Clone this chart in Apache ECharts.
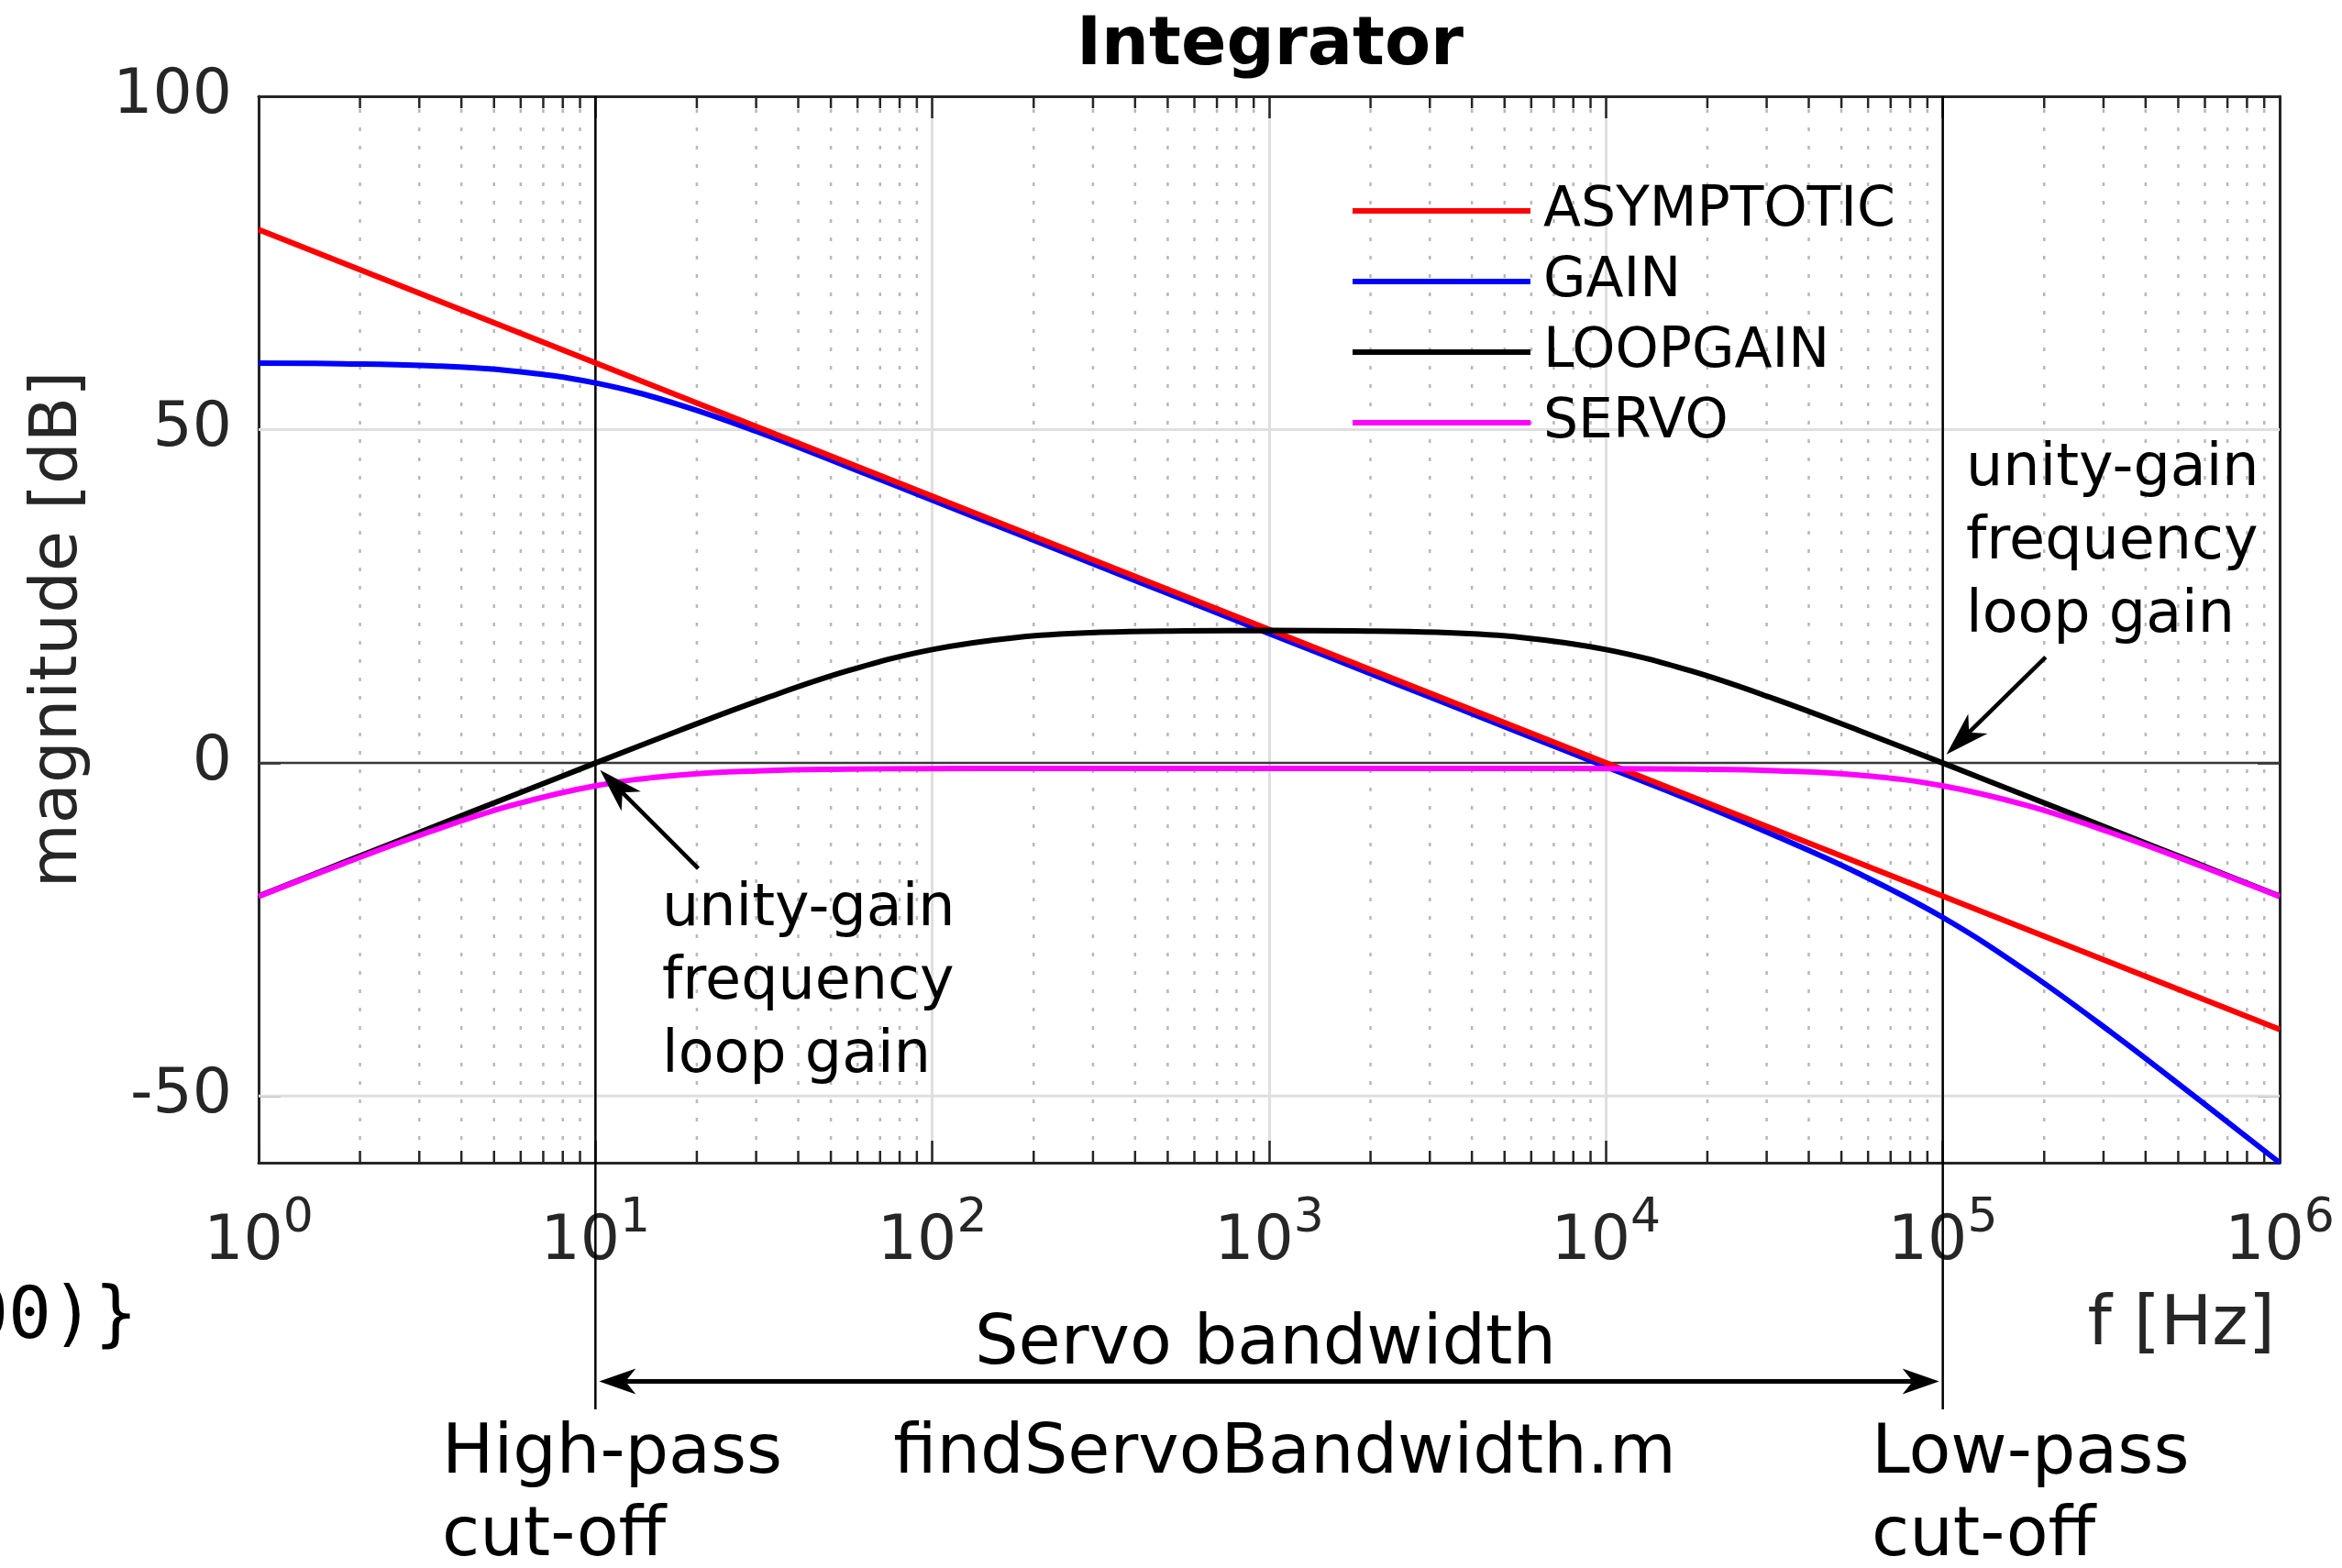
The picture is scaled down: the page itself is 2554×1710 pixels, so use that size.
<!DOCTYPE html>
<html>
<head>
<meta charset="utf-8">
<script src="https://cdn.jsdelivr.net/npm/echarts@6/dist/echarts.min.js"></script>
<style>
html,body{margin:0;padding:0;background:#fff;}
#chart{width:2554px;height:1710px;}
</style>
</head>
<body>
<div id="chart"></div>
<script>
// ---- data ----
const freq = [1, 1.778, 3.162, 5.623, 10, 17.78, 31.62, 56.23, 100, 177.8, 316.2, 562.3, 1000,
  1778, 3162, 5623, 10000, 17783, 31623, 56234, 100000, 177828, 316228, 562341, 1000000];
const asymFreq = [1, 1000000];
const asymDb = [80, -40];
const gainDb = [59.96, 59.87, 59.59, 58.81, 56.99, 53.7, 49.3, 44.4, 39.4, 34.4, 29.4, 24.4, 19.4,
  14.4, 9.4, 4.4, -0.6, -5.6, -10.9, -16.6, -23.2, -31.3, -40.45, -50.15, -60.0];
const loopDb = [-20.00, -15.00, -10.00, -5.01, -0.04, 4.87, 9.59, 13.81, 16.99, 18.81, 19.58, 19.80, 19.85,
  19.80, 19.58, 18.81, 16.99, 13.81, 9.59, 4.87, -0.04, -5.01, -10.00, -15.00, -20.00];
const servoDb = [-20.05, -15.16, -10.50, -6.41, -3.45, -1.84, -1.18, -0.95, -0.87, -0.85, -0.84, -0.84, -0.84,
  -0.84, -0.84, -0.85, -0.87, -0.95, -1.18, -1.84, -3.45, -6.41, -10.50, -15.16, -20.05];
const seriesNames = ['ASYMPTOTIC', 'GAIN', 'LOOPGAIN', 'SERVO'];
const yTickValues = [-50, 0, 50, 100];
const yGridValues = [-50, 50];
const cutoffFreqs = [10, 100000];
const annotLeft = {tail: [20.2, -15.85], tip: [10.32, -1.10]};
const annotRight = {tail: [202000, 15.85], tip: [102500, 1.24]};

// ---- layout / style ----
const FONT = 'DejaVu Sans';
const AX = '#262626';
const LW = 6;
const X_MIN = 1, X_MAX = 1e6, Y_MIN = -60, Y_MAX = 100;

const minorVals = [];
for (let d = 0; d < 6; d++) for (let m = 2; m <= 9; m++) minorVals.push([m * Math.pow(10, d), 0]);

const zip = (xs, ys) => xs.map((x, i) => [x, ys[i]]);

const chart = echarts.init(document.getElementById('chart'), null, {renderer: 'canvas'});

const option = {
  animation: false,
  backgroundColor: '#fff',
  title: {
    text: 'Integrator', left: 1380, top: 10, textAlign: 'center',
    textStyle: {fontFamily: FONT, fontSize: 73, fontWeight: 'bold', color: '#000'}
  },
  grid: {left: 282, right: 68, top: 105, bottom: 442, containLabel: false},
  legend: {
    orient: 'vertical', left: 1470, top: 194, itemWidth: 194, itemHeight: LW, itemGap: 15,
    icon: 'rect', selectedMode: false, data: seriesNames,
    textStyle: {fontFamily: FONT, fontSize: 60, color: '#000', lineHeight: 62, padding: [0, 0, 0, 9]}
  },
  xAxis: [{
    type: 'log', logBase: 10, min: X_MIN, max: X_MAX, position: 'bottom',
    axisLine: {show: true, onZero: false, lineStyle: {color: AX, width: 3}},
    axisTick: {show: true, inside: true, length: 24, lineStyle: {color: AX, width: 2.5}},
    axisLabel: {
      show: true, margin: 35,
      formatter: v => '{b|10}{s|' + Math.round(Math.log10(v)) + '}',
      rich: {
        b: {fontFamily: FONT, fontSize: 68, color: AX, verticalAlign: 'bottom'},
        s: {fontFamily: FONT, fontSize: 52, color: AX, verticalAlign: 'bottom', padding: [0, 0, 34, 0]}
      }
    },
    splitLine: {show: true, lineStyle: {color: '#dfdfdf', width: 3}},
    minorTick: {show: false}
  }, {
    type: 'log', logBase: 10, min: X_MIN, max: X_MAX, position: 'top',
    axisLine: {show: true, onZero: false, lineStyle: {color: AX, width: 3}},
    axisTick: {show: true, inside: true, length: 24, lineStyle: {color: AX, width: 2.5}},
    axisLabel: {show: false}, splitLine: {show: false}
  }],
  yAxis: [{
    type: 'value', min: Y_MIN, max: Y_MAX, position: 'left',
    name: 'magnitude [dB]', nameLocation: 'middle', nameGap: 182,
    nameTextStyle: {fontFamily: FONT, fontSize: 72, color: AX},
    axisLine: {show: true, onZero: false, lineStyle: {color: AX, width: 3}},
    axisTick: {show: true, inside: true, length: 24, customValues: yTickValues, lineStyle: {color: AX, width: 2.5}},
    axisLabel: {show: true, margin: 29, customValues: yTickValues, fontFamily: FONT, fontSize: 68, color: AX},
    splitLine: {show: false}
  }, {
    type: 'value', min: Y_MIN, max: Y_MAX, position: 'right',
    axisLine: {show: true, onZero: false, lineStyle: {color: AX, width: 3}},
    axisTick: {show: true, inside: true, length: 24, customValues: yTickValues, lineStyle: {color: AX, width: 2.5}},
    axisLabel: {show: false}, splitLine: {show: false}
  }],
  series: [
    { // minor dotted grid + minor ticks
      type: 'custom', silent: true, xAxisIndex: 0, yAxisIndex: 0, z: 1,
      data: minorVals, encode: {x: 0, y: 1},
      renderItem: (params, api) => {
        const v = api.value(0);
        const t = api.coord([v, Y_MAX]), b = api.coord([v, Y_MIN]);
        return {type: 'group', children: [
          {type: 'line', shape: {x1: t[0], y1: t[1] + 14, x2: b[0], y2: b[1] - 14},
           style: {stroke: '#b8b8b8', lineWidth: 2.5, lineDash: [4, 16]}},
          {type: 'line', shape: {x1: t[0], y1: t[1], x2: t[0], y2: t[1] + 13}, style: {stroke: AX, lineWidth: 2.5}},
          {type: 'line', shape: {x1: b[0], y1: b[1], x2: b[0], y2: b[1] - 13}, style: {stroke: AX, lineWidth: 2.5}}
        ]};
      }
    },
    { // major horizontal grid lines
      type: 'custom', silent: true, xAxisIndex: 0, yAxisIndex: 0, z: 1,
      data: yGridValues.map(v => [X_MIN, v]), encode: {x: 0, y: 1},
      renderItem: (params, api) => {
        const v = api.value(1);
        const a = api.coord([X_MIN, v]), b = api.coord([X_MAX, v]);
        return {type: 'line', shape: {x1: a[0], y1: a[1], x2: b[0], y2: b[1]},
                style: {stroke: '#dfdfdf', lineWidth: 3}};
      }
    },
    { // zero line
      type: 'custom', silent: true, xAxisIndex: 0, yAxisIndex: 0, z: 1,
      data: [[X_MIN, 0]], encode: {x: 0, y: 1},
      renderItem: (params, api) => {
        const a = api.coord([X_MIN, 0]), b = api.coord([X_MAX, 0]);
        return {type: 'line', shape: {x1: a[0], y1: a[1], x2: b[0], y2: b[1]},
                style: {stroke: '#383838', lineWidth: 2.5}};
      }
    },
    { // cut-off verticals, extended below the axes
      type: 'custom', silent: true, xAxisIndex: 0, yAxisIndex: 0, z: 1,
      data: cutoffFreqs.map(f => [f, 0]), encode: {x: 0, y: 1},
      renderItem: (params, api) => {
        const f = api.value(0);
        const a = api.coord([f, Y_MAX]), b = api.coord([f, -97]);
        return {type: 'line', shape: {x1: a[0], y1: a[1], x2: b[0], y2: b[1]},
                style: {stroke: '#000', lineWidth: 2.5}};
      }
    },
    {name: 'ASYMPTOTIC', type: 'line', data: zip(asymFreq, asymDb), symbol: 'none', silent: true, z: 4,
     lineStyle: {color: '#ff0000', width: LW}, itemStyle: {color: '#ff0000'}},
    {name: 'GAIN', type: 'line', data: zip(freq, gainDb), symbol: 'none', smooth: 0.4, silent: true, z: 3,
     lineStyle: {color: '#0000ff', width: LW}, itemStyle: {color: '#0000ff'}},
    {name: 'LOOPGAIN', type: 'line', data: zip(freq, loopDb), symbol: 'none', smooth: 0.4, silent: true, z: 5,
     lineStyle: {color: '#000000', width: LW}, itemStyle: {color: '#000000'}},
    {name: 'SERVO', type: 'line', data: zip(freq, servoDb), symbol: 'none', smooth: 0.4, silent: true, z: 6,
     lineStyle: {color: '#ff00ff', width: LW}, itemStyle: {color: '#ff00ff'}}
  ]
};
chart.setOption(option);

// ---- annotations, positioned through the chart's own scales ----
const px = p => chart.convertToPixel({xAxisIndex: 0, yAxisIndex: 0}, p);

function arrowParts(x1, y1, x2, y2, len, wid, lw) {
  const dx = x2 - x1, dy = y2 - y1, d = Math.hypot(dx, dy);
  const ux = dx / d, uy = dy / d, nx = -uy, ny = ux;
  const bx = x2 - ux * len, by = y2 - uy * len;
  const nxp = x2 - ux * len * 0.72, nyp = y2 - uy * len * 0.72;
  return [
    {type: 'line', z: 10, shape: {x1: x1, y1: y1, x2: nxp, y2: nyp}, style: {stroke: '#000', lineWidth: lw}},
    {type: 'polygon', z: 10, shape: {points: [[x2, y2], [bx + nx * wid / 2, by + ny * wid / 2], [nxp, nyp],
      [bx - nx * wid / 2, by - ny * wid / 2]]}, style: {fill: '#000'}}
  ];
}

const g = [];
const lt = px(annotLeft.tail), lh = px(annotLeft.tip);
g.push(...arrowParts(lt[0], lt[1], lh[0], lh[1], 48, 30, 4.5));
const rt = px(annotRight.tail), rh = px(annotRight.tip);
g.push(...arrowParts(rt[0], rt[1], rh[0], rh[1], 48, 30, 4.5));

const hp = px([cutoffFreqs[0], -92.8]), lp = px([cutoffFreqs[1], -92.8]);
const mid = [(hp[0] + lp[0]) / 2, hp[1]];
g.push(...arrowParts(mid[0], mid[1], hp[0] + 4, hp[1], 40, 28, 5));
g.push(...arrowParts(mid[0], mid[1], lp[0] - 4, lp[1], 40, 28, 5));

function txt(text, x, y, size, align, lh) {
  return {type: 'text', x: x, y: y, silent: true, z: 10,
    style: {text: text, fontFamily: FONT, fontSize: size, fill: '#000', align: align,
            verticalAlign: 'top', lineHeight: lh}};
}
const uText = 'unity-gain\nfrequency\nloop gain';
g.push(txt(uText, 722, 952, 63.5, 'left', 80));
g.push(txt(uText, 2144, 472, 63.5, 'left', 80));
g.push(txt('Servo bandwidth', 1380, 1423, 75, 'center', 90));
g.push(txt('High-pass\ncut-off', 482, 1542, 75, 'left', 90));
g.push(txt('findServoBandwidth.m', 1401, 1542, 75, 'center', 90));
g.push(txt('Low-pass\ncut-off', 2041, 1542, 75, 'left', 90));
const fh = txt('f [Hz]', 2481, 1402, 75, 'right', 90);
fh.style.fill = AX;
g.push(fh);
const cut = txt('00)}', 150, 1394, 78, 'right', 90);
cut.style.fontFamily = 'DejaVu Sans Mono';
g.push(cut);

chart.setOption({graphic: [{type: 'group', children: g}]});
</script>
</body>
</html>
